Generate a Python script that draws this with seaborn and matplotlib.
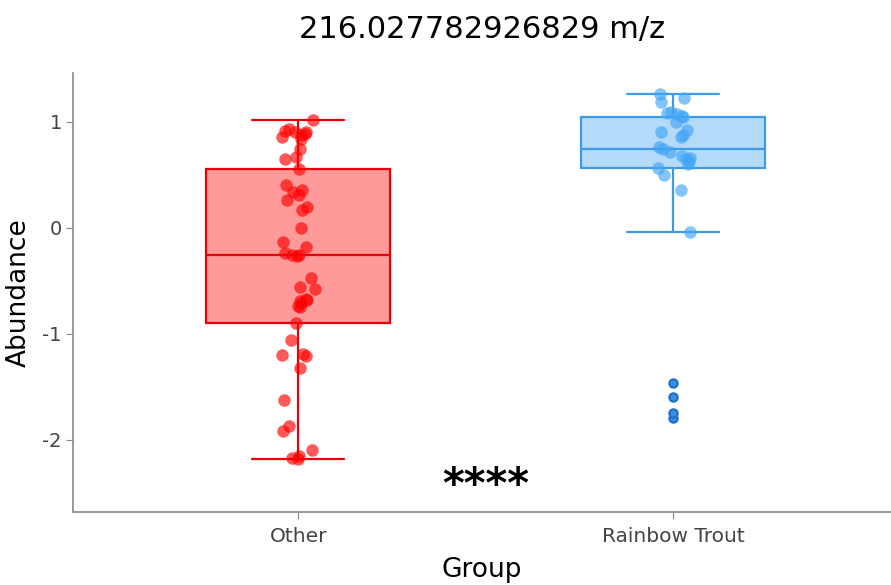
import numpy as np
import pandas as pd
import matplotlib
matplotlib.use("Agg")
import matplotlib.pyplot as plt
import seaborn as sns

# values
groups = ["Other", "Rainbow Trout"]
other_vals = [
    -2.18, -2.17, -2.15, -2.10, -1.92, -1.87, -1.62, -1.32, -1.21, -1.20,
    -1.19, -1.06, -0.896, -0.75, -0.74, -0.71, -0.69, -0.68, -0.67, -0.58,
    -0.56, -0.47, -0.27, -0.26, -0.255, -0.24, -0.18, -0.13, 0.0, 0.17,
    0.20, 0.26, 0.31, 0.34, 0.36, 0.40, 0.557, 0.65, 0.67, 0.74,
    0.84, 0.86, 0.88, 0.89, 0.90, 0.90, 0.91, 0.93, 1.02,
]
trout_vals = [
    -1.79, -1.75, -1.60, -1.46, -0.04, 0.36, 0.50, 0.566, 0.60, 0.63,
    0.65, 0.66, 0.68, 0.72, 0.745, 0.76, 0.86, 0.88, 0.90, 0.92,
    1.00, 1.05, 1.06, 1.07, 1.08, 1.09, 1.19, 1.23, 1.26,
]
edge_colors = ["#E8000B", "#3D9BE9"]
fill_colors = ["#FF9A9A", "#B3DAF8"]
point_colors = ["#FF0000", "#42A5F5"]
title = "216.027782926829 m/z"
signif = "****"

df = pd.DataFrame({
    "Group": [groups[0]] * len(other_vals) + [groups[1]] * len(trout_vals),
    "Abundance": other_vals + trout_vals,
})

sns.set_style("white")
plt.rcParams["font.family"] = ["DejaVu Sans"]

fig = plt.figure(figsize=(8.91, 5.85), dpi=100)
ax = fig.add_axes([0.082, 0.125, 0.918, 0.75])

for i, g in enumerate(groups):
    sub = df[df["Group"] == g]
    sns.boxplot(
        data=sub, x="Group", y="Abundance", order=groups, ax=ax,
        color=fill_colors[i], linecolor=edge_colors[i], saturation=1,
        width=0.49, linewidth=1.6, whis=1.5,
        flierprops=dict(marker="o", markersize=6, markerfacecolor="#3A8FE0",
                        markeredgecolor="#1E6FC8", markeredgewidth=1.5),
    )
    v = sub["Abundance"].to_numpy()
    q1, q3 = np.percentile(v, [25, 75])
    iqr = q3 - q1
    inside = sub[(v >= q1 - 1.5 * iqr) & (v <= q3 + 1.5 * iqr)]
    sns.stripplot(
        data=inside, x="Group", y="Abundance", order=groups, ax=ax,
        color=point_colors[i], alpha=0.65, size=9, jitter=0.045, linewidth=0,
    )

ax.text(0.5, -2.44, signif, ha="center", va="center", fontsize=30,
        fontweight="bold", color="black")

ax.set_xlim(-0.6, 1.58)
ax.set_ylim(-2.68, 1.46)
ax.set_yticks([1, 0, -1, -2])
ax.set_yticklabels(["1", "0", "-1", "-2"])
ax.tick_params(axis="y", left=True, length=5, color="#888888",
               labelsize=14, labelcolor="#444444", pad=3)
ax.tick_params(axis="x", bottom=True, length=5, color="#888888",
               labelsize=14.5, labelcolor="#444444", pad=6)
sns.despine(ax=ax)
for s in ["left", "bottom"]:
    ax.spines[s].set_color("#888888")
    ax.spines[s].set_linewidth(1.2)
ax.set_xlabel("Group", fontsize=19, labelpad=8, color="black")
ax.set_ylabel("Abundance", fontsize=19, labelpad=8, color="black")
fig.suptitle(title, fontsize=22, x=0.541, y=0.975, color="black")

fig.savefig("out.png", dpi=100)
